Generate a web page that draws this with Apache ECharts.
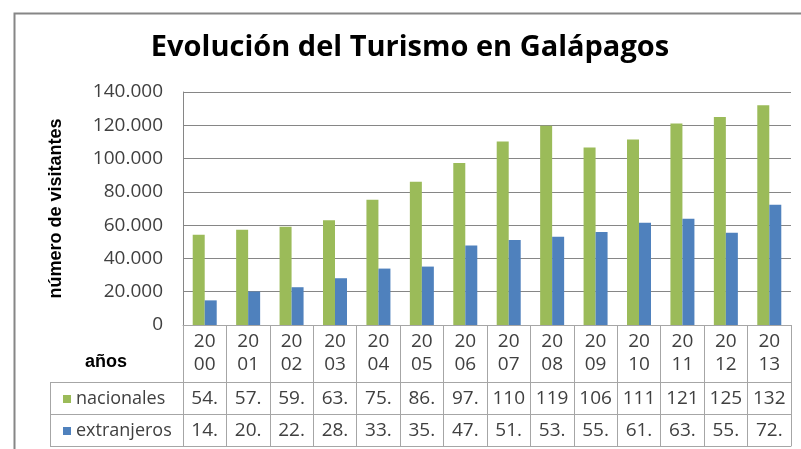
<!DOCTYPE html>
<html>
<head>
<meta charset="utf-8">
<script src="https://cdn.jsdelivr.net/npm/echarts@6/dist/echarts.min.js"></script>
<style>
  html, body { margin: 0; padding: 0; background: #fff; }
  #chart { width: 801px; height: 449px; }
</style>
</head>
<body>
<div id="chart"></div>
<script>
// datos
var years = ['2000', '2001', '2002', '2003', '2004', '2005', '2006',
             '2007', '2008', '2009', '2010', '2011', '2012', '2013'];
var nacionales = [54200, 57200, 59000, 63000, 75200, 86000, 97300,
                  110300, 119700, 106700, 111500, 121100, 125000, 132000];
var extranjeros = [14800, 20100, 22700, 28100, 33900, 35100, 47700,
                   51100, 53000, 55900, 61400, 63800, 55400, 72200];
var yTicks = [0, 20000, 40000, 60000, 80000, 100000, 120000, 140000];

var GREEN = '#9BBB59', BLUE = '#4F81BD';
var TXT = '#404040', LINE = '#A6A6A6';
var FONT = 'Open Sans';

// 140000 -> "140.000"
function miles(v) {
	return String(v).replace(/\B(?=(\d{3})+(?!\d))/g, '.');
}
// la tabla de Excel corta el numero a 3 caracteres
function celda(v) {
	return miles(v).slice(0, 3);
}

var chart = echarts.init(document.getElementById('chart'));

// eje extra para cada fila de la tabla de datos
function filaTabla(values, offset) {
	return {
		type: 'category',
		position: 'bottom',
		offset: offset,
		data: values.map(celda),
		axisLine: { show: true, lineStyle: { color: LINE, width: 1 } },
		axisTick: { show: false },
		axisLabel: {
			margin: 7, fontSize: 19, lineHeight: 19,
			fontFamily: FONT, color: TXT, interval: 0
		}
	};
}

var option = {
	animation: false,
	backgroundColor: '#fff',
	title: {
		text: 'Evolución del Turismo en Galápagos',
		left: 405,
		textAlign: 'center',
		top: 28,
		textStyle: { fontFamily: FONT, fontWeight: 'bold', fontSize: 29, color: '#000' }
	},
	legend: {
		orient: 'vertical',
		left: 63,
		top: 390,
		padding: 0,
		itemWidth: 8,
		itemHeight: 8,
		itemGap: 14,
		icon: 'rect',
		textStyle: { fontFamily: FONT, fontSize: 18, lineHeight: 18, color: TXT },
		data: ['nacionales', 'extranjeros']
	},
	grid: { left: 183, right: 10, top: 92, bottom: 124 },
	xAxis: [
		{
			type: 'category',
			data: years,
			axisLine: { show: true, lineStyle: { color: LINE, width: 1 } },
			axisTick: { show: true, length: 121, lineStyle: { color: LINE } },
			axisLabel: {
				margin: 5, fontSize: 19, lineHeight: 23,
				fontFamily: FONT, color: TXT, interval: 0,
				formatter: function (v) { return v.slice(0, 2) + '\n' + v.slice(2); }
			}
		},
		filaTabla(nacionales, 57),
		filaTabla(extranjeros, 89),
		{
			type: 'category',
			position: 'bottom',
			offset: 121,
			data: years,
			axisLine: { show: true, lineStyle: { color: LINE, width: 1 } },
			axisTick: { show: false },
			axisLabel: { show: false }
		}
	],
	yAxis: {
		type: 'value',
		min: 0,
		max: 140000,
		interval: 20000,
		name: 'número de visitantes',
		nameLocation: 'middle',
		nameGap: 118,
		nameTextStyle: { fontFamily: 'Liberation Sans', fontWeight: 'bold', fontSize: 18, color: '#000' },
		axisLine: { show: true, lineStyle: { color: '#868686' } },
		axisTick: { show: false },
		axisLabel: {
			margin: 20, fontSize: 19, fontFamily: FONT, color: TXT,
			formatter: function (v) { return miles(v); }
		},
		splitLine: { lineStyle: { color: '#868686', width: 1 } }
	},
	series: [
		{
			name: 'nacionales',
			type: 'bar',
			data: nacionales,
			barWidth: 12,
			barGap: '0%',
			itemStyle: { color: GREEN }
		},
		{
			name: 'extranjeros',
			type: 'bar',
			data: extranjeros,
			barWidth: 12,
			barGap: '0%',
			itemStyle: { color: BLUE }
		}
	],
	graphic: [
		// marco del grafico (cortado a la derecha y abajo)
		{ type: 'rect', left: 12, top: 11, shape: { width: 900, height: 600 },
		  style: { fill: 'none', stroke: '#868686', lineWidth: 2 } },
		{ type: 'text', left: 85, top: 353, style: {
			text: 'años', font: 'bold 18px "Liberation Sans"', fill: '#000' } },
		// parte izquierda de la tabla (leyenda)
		{ type: 'line', shape: { x1: 50, y1: 382.5, x2: 183, y2: 382.5 }, style: { stroke: LINE, lineWidth: 1 } },
		{ type: 'line', shape: { x1: 50, y1: 414.5, x2: 183, y2: 414.5 }, style: { stroke: LINE, lineWidth: 1 } },
		{ type: 'line', shape: { x1: 50, y1: 446.5, x2: 183, y2: 446.5 }, style: { stroke: LINE, lineWidth: 1 } },
		{ type: 'line', shape: { x1: 50.5, y1: 382, x2: 50.5, y2: 447 }, style: { stroke: LINE, lineWidth: 1 } }
	]
};

chart.setOption(option);
</script>
</body>
</html>
